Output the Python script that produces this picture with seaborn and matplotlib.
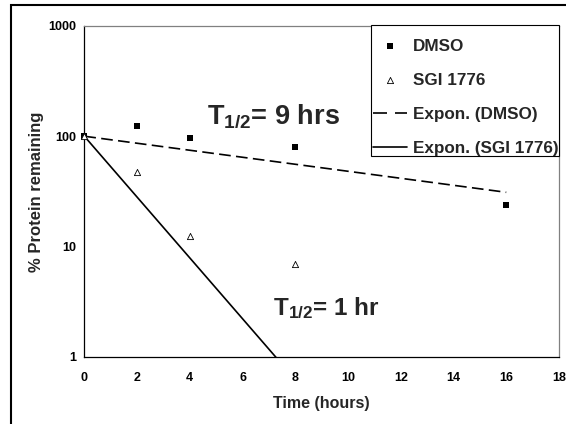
import seaborn as sns
import matplotlib.pyplot as plt
from matplotlib.lines import Line2D
from matplotlib.patches import Rectangle
from matplotlib.ticker import FuncFormatter

# data
time_dmso = [0, 2, 4, 8, 16]
dmso = [100, 123, 97, 79.5, 23.6]
time_sgi = [0, 2, 4, 8]
sgi = [100, 47.8, 12.5, 6.9]

# Excel exponential trendlines (end points)
fit_dmso_x = [0, 16]
fit_dmso = [100, 31]
fit_sgi_x = [0, 8]
fit_sgi = [100, 0.62]

x_ticks = [0, 2, 4, 6, 8, 10, 12, 14, 16, 18]
y_ticks = [1, 10, 100, 1000]
legend_order = ["DMSO", "SGI 1776", "Expon. (DMSO)", "Expon. (SGI 1776)"]

sns.set_theme(style="white")
plt.rcParams["font.family"] = ["Liberation Sans", "DejaVu Sans"]
plt.rcParams["font.weight"] = "bold"
plt.rcParams["mathtext.fontset"] = "custom"
plt.rcParams["mathtext.rm"] = "Liberation Sans:bold"
plt.rcParams["mathtext.it"] = "Liberation Sans:bold"
plt.rcParams["mathtext.bf"] = "Liberation Sans:bold"

fig, ax = plt.subplots(figsize=(5.66, 4.24))
fig.subplots_adjust(left=0.149, right=0.9876, bottom=0.1587, top=0.9387)

ax.set_yscale("log")

sns.scatterplot(x=time_dmso, y=dmso, marker="s", s=14, color="black",
                edgecolor="black", linewidth=0, label="DMSO", ax=ax,
                clip_on=False, zorder=3)
sns.scatterplot(x=time_sgi, y=sgi, marker="^", s=20, color="white",
                edgecolor="black", linewidth=0.6, label="SGI 1776", ax=ax,
                clip_on=False, zorder=3)
sns.lineplot(x=fit_dmso_x, y=fit_dmso, color="black", linewidth=1.2,
             linestyle=(0, (7, 3.2)), label="Expon. (DMSO)", ax=ax)
sns.lineplot(x=fit_sgi_x, y=fit_sgi, color="black", linewidth=1.2,
             label="Expon. (SGI 1776)", ax=ax)

ax.set_xlim(0, 18)
ax.set_ylim(1, 1000)
ax.set_xticks(x_ticks)
ax.set_yticks(y_ticks)
ax.minorticks_off()
ax.yaxis.set_major_formatter(FuncFormatter(lambda v, _: f"{v:g}"))

ax.tick_params(axis="both", direction="out", length=3, width=0.9,
               colors="black", labelsize=9)
ax.tick_params(axis="x", pad=8)
ax.tick_params(axis="y", pad=3)

for side in ["left", "bottom"]:
    ax.spines[side].set_color("black")
    ax.spines[side].set_linewidth(0.9)
for side in ["top", "right"]:
    ax.spines[side].set_color("#808080")
    ax.spines[side].set_linewidth(0.9)

ax.set_xlabel("Time (hours)", fontsize=11.5, fontweight="bold")
ax.set_ylabel("% Protein remaining", fontsize=12, fontweight="bold")
ax.xaxis.set_label_coords(0.5, -0.119)
ax.yaxis.set_label_coords(-0.085, 0.5)

ax.text(0.258, 0.704, "T$_{1/2}$= 9 hrs", transform=ax.transAxes,
        fontsize=19.5, fontweight="bold", va="baseline", ha="left")
ax.text(0.397, 0.126, "T$_{1/2}$= 1 hr", transform=ax.transAxes,
        fontsize=17.5, fontweight="bold", va="baseline", ha="left")

# legend box
ax.add_patch(Rectangle((0.603, 0.607), 0.397, 0.396, transform=ax.transAxes,
                       facecolor="white", edgecolor="black", linewidth=0.8,
                       zorder=4, clip_on=False))
handles, labels = ax.get_legend_handles_labels()
lookup = dict(zip(labels, handles))
# Excel draws the dashed legend key with two long dashes
lookup["Expon. (DMSO)"] = Line2D([], [], color="black", linewidth=1.2,
                                 linestyle=(0, (8.4, 4.8)))
leg = ax.legend([lookup[k] for k in legend_order], legend_order,
                loc="upper left", bbox_to_anchor=(0.608, 0.962),
                frameon=False, fontsize=12.3, handlelength=2.0,
                handletextpad=0.33, labelspacing=1.12, borderpad=0,
                borderaxespad=0)
leg.set_zorder(5)

# outer chart border
fig.patches.append(Rectangle((0.0194, -0.05), 1.1, 1.038,
                             transform=fig.transFigure, fill=False,
                             edgecolor="black", linewidth=1.5))

fig.savefig("out.png", dpi=100)
